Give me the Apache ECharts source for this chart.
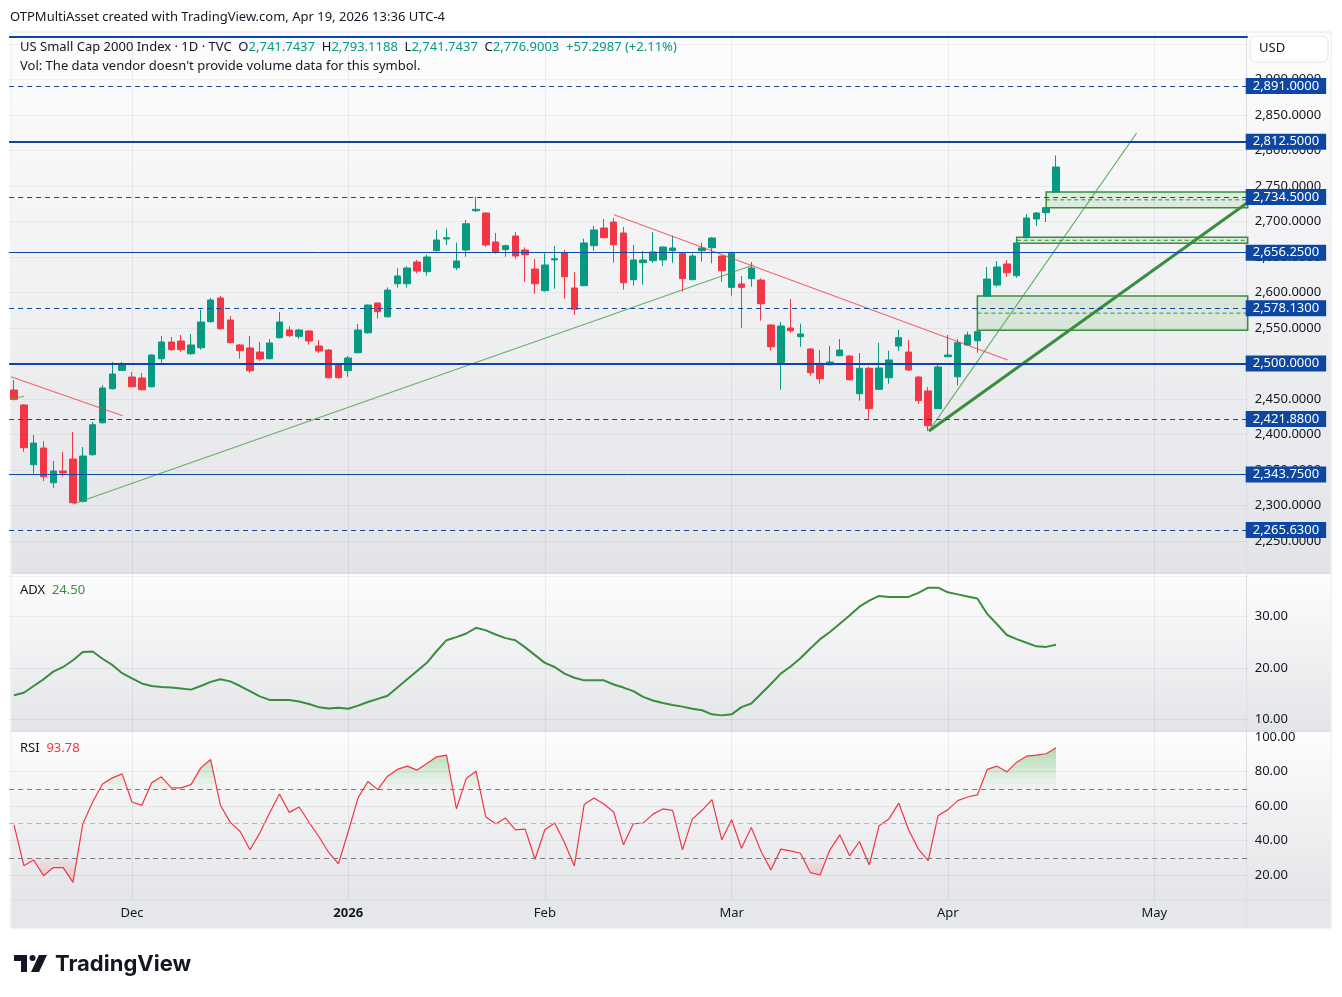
<!DOCTYPE html>
<html><head><meta charset="utf-8">
<script src="https://cdn.jsdelivr.net/npm/echarts@6/dist/echarts.min.js"></script>
<style>html,body{margin:0;padding:0;background:#fff;}#c{width:1342px;height:997px;}</style>
</head><body><div id="c"></div>
<script>
// ---------- DATA ----------
const dates = [
'2025-11-12','2025-11-13','2025-11-14','2025-11-17','2025-11-18','2025-11-19','2025-11-20','2025-11-21','2025-11-24','2025-11-25','2025-11-26','2025-11-28',
'2025-12-01','2025-12-02','2025-12-03','2025-12-04','2025-12-05','2025-12-08','2025-12-09','2025-12-10','2025-12-11','2025-12-12','2025-12-15','2025-12-16','2025-12-17','2025-12-18','2025-12-19','2025-12-22','2025-12-23','2025-12-24','2025-12-26','2025-12-29','2025-12-30','2025-12-31',
'2026-01-02','2026-01-05','2026-01-06','2026-01-07','2026-01-08','2026-01-09','2026-01-12','2026-01-13','2026-01-14','2026-01-15','2026-01-16','2026-01-20','2026-01-21','2026-01-22','2026-01-23','2026-01-26','2026-01-27','2026-01-28','2026-01-29','2026-01-30',
'2026-02-02','2026-02-03','2026-02-04','2026-02-05','2026-02-06','2026-02-09','2026-02-10','2026-02-11','2026-02-12','2026-02-13','2026-02-17','2026-02-18','2026-02-19','2026-02-20','2026-02-23','2026-02-24','2026-02-25','2026-02-26','2026-02-27',
'2026-03-02','2026-03-03','2026-03-04','2026-03-05','2026-03-06','2026-03-09','2026-03-10','2026-03-11','2026-03-12','2026-03-13','2026-03-16','2026-03-17','2026-03-18','2026-03-19','2026-03-20','2026-03-23','2026-03-24','2026-03-25','2026-03-26','2026-03-27','2026-03-30','2026-03-31',
'2026-04-01','2026-04-02','2026-04-06','2026-04-07','2026-04-08','2026-04-09','2026-04-10','2026-04-13','2026-04-14','2026-04-15','2026-04-16','2026-04-17'];
const futureDates = ['2026-04-20','2026-04-21','2026-04-22','2026-04-23','2026-04-24','2026-04-27','2026-04-28','2026-04-29','2026-04-30','2026-05-01','2026-05-04','2026-05-05','2026-05-06','2026-05-07','2026-05-08','2026-05-11','2026-05-12','2026-05-13','2026-05-14'];

const opens = [
2462.8,2441.7,2357.6,2381.1,2332.2,2348.7,2365.6,2306.0,2371.7,2416.7,
2464.6,2490.5,2481.1,2479.7,2467.4,2506.9,2530.4,2531.8,2513.9,2522.4,
2559.0,2592.4,2561.4,2526.2,2522.0,2516.3,2506.9,2536.5,2547.3,2538.4,
2545.9,2524.8,2519.1,2499.4,2490.0,2515.3,2543.5,2585.3,2566.0,2612.5,
2612.5,2643.1,2629.4,2659.0,2675.5,2635.0,2660.0,2715.3,2712.1,2671.3,
2660.6,2679.7,2660.0,2633.2,2602.7,2646.0,2655.8,2606.5,2609.7,2666.1,
2691.0,2699.4,2683.9,2618.2,2642.1,2644.9,2646.0,2659.0,2654.8,2618.2,
2659.0,2663.2,2651.5,2607.4,2612.1,2619.6,2617.7,2554.4,2501.3,2550.1,
2537.9,2520.6,2500.4,2498.4,2511.1,2510.7,2457.6,2493.4,2463.8,2480.1,
2524.8,2516.3,2481.1,2461.4,2436.5,2509.7,2481.5,2526.2,2532.2,2595.2,
2610.7,2640.3,2623.8,2677.4,2703.7,2712.6,2741.7437];
const highs = [
2476.9,2443.0,2399.4,2390.5,2362.8,2375.5,2403.6,2382.5,2417.7,2469.8,
2502.2,2502.2,2488.2,2486.8,2513.0,2538.9,2537.4,2540.3,2541.7,2575.9,
2592.4,2595.2,2567.0,2527.5,2538.9,2530.4,2534.6,2572.7,2552.9,2548.7,
2547.0,2533.2,2520.5,2500.5,2510.7,2555.8,2583.0,2586.0,2607.4,2634.2,
2637.0,2646.0,2653.4,2688.2,2690.6,2670.3,2702.2,2735.1,2713.0,2683.9,
2667.5,2685.4,2663.8,2647.3,2655.4,2665.6,2660.0,2629.0,2675.9,2693.8,
2703.7,2705.1,2692.4,2667.0,2658.6,2685.4,2665.0,2680.1,2656.0,2654.8,
2670.3,2678.3,2652.5,2657.6,2623.4,2643.1,2620.0,2555.0,2558.6,2591.0,
2556.2,2521.5,2519.1,2524.8,2534.6,2511.5,2514.9,2495.6,2529.4,2518.2,
2547.7,2533.2,2482.0,2467.0,2500.4,2540.3,2534.6,2544.9,2546.0,2636.0,
2644.5,2645.9,2672.0,2710.7,2713.5,2720.5,2793.1188];
const lows = [
2448.0,2375.9,2344.9,2334.6,2325.2,2340.7,2303.0,2304.5,2370.5,2415.5,
2463.5,2489.5,2466.5,2462.0,2466.5,2501.3,2518.2,2516.7,2512.5,2519.6,
2557.5,2547.5,2528.5,2506.9,2487.2,2503.7,2506.0,2535.5,2537.4,2535.0,
2526.6,2514.9,2479.0,2479.0,2481.5,2514.5,2542.1,2563.2,2565.0,2606.9,
2607.0,2627.2,2623.8,2658.0,2667.0,2631.8,2650.6,2713.5,2664.6,2654.8,
2650.6,2647.7,2615.3,2598.4,2601.5,2605.5,2591.4,2568.9,2609.0,2659.0,
2676.5,2642.1,2604.1,2609.7,2611.1,2642.1,2637.5,2642.1,2601.3,2617.5,
2643.5,2641.3,2615.3,2595.6,2550.5,2608.3,2560.4,2518.2,2463.2,2543.5,
2523.8,2482.9,2471.7,2497.5,2510.5,2476.0,2447.7,2422.4,2463.0,2471.7,
2517.7,2489.6,2443.1,2405.0,2435.8,2509.0,2468.9,2525.0,2515.3,2594.0,
2608.3,2622.4,2620.9,2676.0,2693.8,2699.4,2741.7437];
const closes = [
2449.7,2381.5,2388.1,2340.7,2348.7,2346.0,2304.1,2369.8,2413.9,2465.6,
2485.3,2499.4,2467.4,2463.2,2512.1,2530.4,2519.6,2519.6,2526.2,2558.6,
2589.6,2549.1,2529.4,2518.2,2490.0,2506.5,2529.0,2558.6,2539.3,2547.3,
2531.8,2517.7,2480.1,2480.1,2507.9,2547.3,2582.5,2573.1,2603.6,2623.4,
2634.6,2630.4,2650.1,2674.1,2677.3,2644.5,2697.0,2717.3,2667.0,2657.2,
2666.1,2651.5,2653.4,2612.5,2638.9,2647.7,2622.4,2576.5,2669.9,2688.2,
2677.3,2667.5,2613.9,2646.0,2646.0,2657.2,2664.2,2662.8,2619.6,2651.5,
2662.8,2676.9,2630.8,2655.3,2607.4,2634.6,2584.3,2523.8,2552.9,2546.3,
2541.7,2487.2,2478.7,2502.2,2519.1,2477.3,2493.4,2436.5,2493.8,2505.1,
2536.5,2491.0,2447.7,2412.5,2495.2,2512.1,2529.4,2540.3,2544.9,2619.1,
2636.0,2628.0,2669.9,2705.1,2712.1,2719.6016,2776.9003];

const adx = [
14.7,15.2,16.5,17.8,19.3,20.2,21.5,23.1,23.2,21.8,
20.6,19.0,18.0,17.0,16.5,16.3,16.2,16.0,15.8,16.5,
17.3,17.8,17.4,16.5,15.5,14.5,13.8,13.8,13.8,13.5,
13.0,12.4,12.15,12.3,12.1,12.7,13.4,14.0,14.6,16.2,
17.8,19.4,21.0,23.3,25.4,26.0,26.7,27.8,27.3,26.5,
25.8,25.4,24.0,22.5,21.0,20.2,18.9,18.1,17.6,17.6,
17.6,16.8,16.2,15.5,14.4,13.7,13.2,12.8,12.5,12.1,
11.8,11.0,10.8,11.0,12.4,13.1,15.0,16.9,18.9,20.3,
21.9,23.8,25.6,27.0,28.6,30.2,31.9,33.1,34.0,33.8,
33.8,33.8,34.6,35.6,35.6,34.7,34.3,33.9,33.5,30.5,
28.5,26.4,25.6,24.9,24.2,24.1,24.50];
const rsi = [
49.0,25.4,28.7,19.6,24.3,24.3,15.7,49.7,62.3,72.8,
76.3,78.6,62.3,60.4,73.4,76.9,70.5,70.5,72.4,82.1,
87.0,60.4,50.5,45.2,34.6,44.3,55.9,67.0,56.3,59.4,
50.7,42.3,33.2,26.4,45.2,64.7,74.2,69.5,77.3,81.2,
83.1,80.8,84.7,88.5,89.5,58.4,75.9,80.2,53.6,49.7,
53.0,46.2,46.6,29.1,46.2,50.1,38.8,25.2,60.8,64.7,
61.2,56.5,37.5,49.7,50.1,55.3,58.3,57.5,34.6,52.4,
57.5,63.7,40.4,52.0,35.5,47.6,33.6,22.9,35.0,34.0,
32.6,21.4,20.0,34.6,43.3,31.1,39.4,25.8,48.5,52.4,
61.7,46.2,35.0,28.3,54.4,57.9,63.1,65.2,66.4,81.2,
83.1,79.8,85.4,88.9,89.5,90.3,93.78];

const monthLabels = {'2025-12-01':'Dec','2026-01-02':'2026','2026-02-02':'Feb','2026-03-02':'Mar','2026-04-01':'Apr','2026-05-01':'May'};
const priceTicks = {min:2200, max:2960, step:50};
const adxTicks = [10,20,30];
const rsiGridTicks = [20,40,60,80];
const rsiBands = [70,50,30];

const dashedLevels = [2891, 2734.5, 2578.13, 2421.88, 2265.63];
const thickLevels = [2812.5, 2500];
const thinLevels = [2656.25, 2343.75];
const topLevel = [2960];

// trend lines: [bar index, price]
const redTrend1 = [[-0.31, 2481.5],[11.06, 2426.6]];
const redTrend2 = [[61.03, 2709.7],[101.08, 2505.1]];
const greenShort = [[-0.27, 2450.5],[1.03, 2454.0]];
const greenLong = [[6.03, 2302.3],[75.2, 2638.9]];
const greenSteep = [[93.07, 2405.1],[114.2, 2824.8]];
const greenMain = [[93.07, 2405.1],[125.5, 2726.8]];

// gap zones
const zoneStart = [98, 102, 105];
const zoneLow = [2546.9, 2669.4, 2719.6];
const zoneHigh = [2595.2, 2677.9, 2741.74];

// ---------- CHART ----------
const cats = dates.concat(futureDates);
const NB = cats.length;
const XMAX = NB - 0.5;
const FONT = '"Noto Sans", "DejaVu Sans", sans-serif';
const TXT = '#131722';
const UP = '#089981', DOWN = '#f23645';
const LVL = '#0d47a1';
const GL = '#388e3c';
const L = 9.1, RGT = 94.3;

const fmt4 = v => v.toLocaleString('en-US',{minimumFractionDigits:4, maximumFractionDigits:4});
const fmt2 = v => v.toFixed(2);
const grad = (a,b) => new echarts.graphic.LinearGradient(0,0,0,1,[{offset:0,color:a},{offset:1,color:b}]);

const levelItem = (v, width, type, showLabel) => ({
  yAxis: v,
  lineStyle: {color: LVL, width: width, type: type},
  label: showLabel ? {show:true, position:'end', distance:-2, formatter: fmt4(v), backgroundColor: LVL, color:'#fff',
                      fontSize:13, fontFamily: FONT, padding:[2,7,1,7]} : {show:false}
});
const levelData = []
  .concat(dashedLevels.map(v => levelItem(v, 1, [5,4], true)))
  .concat(thickLevels.map(v => levelItem(v, 2, 'solid', true)))
  .concat(thinLevels.map(v => levelItem(v, 1, 'solid', true)))
  .concat(topLevel.map(v => levelItem(v, 2, 'solid', false)));

const candleData = dates.map((d,i) => [opens[i], closes[i], lows[i], highs[i]]);

const series = [];
series.push({
  type:'candlestick', xAxisIndex:0, yAxisIndex:0, data: candleData, barWidth:7,
  itemStyle:{color:UP, color0:DOWN, borderColor:UP, borderColor0:DOWN, borderWidth:1},
  markLine:{symbol:['none','none'], silent:true, animation:false, z:5, data: levelData}
});
const trend = (data, color, width, opacity) => ({
  type:'line', xAxisIndex:1, yAxisIndex:0, data: data, symbol:'none', silent:true, z:4,
  lineStyle:{color: color, width: width, opacity: opacity}
});
series.push(trend(redTrend1, '#f23645', 1.2, 0.75));
series.push(trend(redTrend2, '#f23645', 1.2, 0.75));
series.push(trend(greenShort, '#43a047', 1.2, 0.8));
series.push(trend(greenLong, '#43a047', 1.2, 0.8));
series.push(trend(greenSteep, '#43a047', 1.2, 0.85));
series.push(trend(greenMain, GL, 3, 1));
zoneStart.forEach((s,k) => {
  const mid = (zoneLow[k] + zoneHigh[k]) / 2;
  series.push({
    type:'line', xAxisIndex:1, yAxisIndex:0, data:[[s, mid],[XMAX, mid]], symbol:'none', silent:true, z:3,
    lineStyle:{color:GL, width:1, type:[4,3]},
    markArea:{silent:true, itemStyle:{color:'rgba(76,175,80,0.14)', borderColor:GL, borderWidth:1.5},
      data:[[{coord:[s, zoneLow[k]]},{coord:[XMAX, zoneHigh[k]]}]]}
  });
});
// ADX
series.push({
  type:'line', xAxisIndex:2, yAxisIndex:1, data: adx, symbol:'none', silent:true, z:3,
  lineStyle:{color:GL, width:2},
  markLine:{symbol:['none','none'], silent:true, animation:false,
    data: adxTicks.map(v => ({yAxis:v, lineStyle:{color:'rgba(42,46,57,0.07)', width:1, type:'solid'}, label:{show:false}}))
      .concat([{yAxis: adx[adx.length-1], lineStyle:{opacity:0}, label:{show:true, position:'end', distance:-2,
        formatter: fmt2(adx[adx.length-1]), backgroundColor:GL, color:'#fff', fontSize:13, fontFamily:FONT, padding:[2,6,1,6]}}])}
});
// RSI fills
const obIdx = series.length;
series.push({type:'line', xAxisIndex:3, yAxisIndex:2, data: rsi, symbol:'none', silent:true, z:1,
  lineStyle:{width:0, opacity:0}, areaStyle:{origin:'start', opacity:1}});
const osIdx = series.length;
series.push({type:'line', xAxisIndex:3, yAxisIndex:2, data: rsi, symbol:'none', silent:true, z:1,
  lineStyle:{width:0, opacity:0}, areaStyle:{origin:'end', opacity:1}});
series.push({
  type:'line', xAxisIndex:3, yAxisIndex:2, data: rsi, symbol:'none', silent:true, z:3,
  lineStyle:{color:'#f23645', width:1.2},
  markLine:{symbol:['none','none'], silent:true, animation:false,
    data: rsiGridTicks.map(v => ({yAxis:v, lineStyle:{color:'rgba(42,46,57,0.07)', width:1, type:'solid'}, label:{show:false}}))
      .concat(rsiBands.map(v => ({yAxis:v, lineStyle:{color: v===50 ? '#b2b5be' : '#787b86', width:1, type:[5,4]}, label:{show:false}})))
      .concat([{yAxis: rsi[rsi.length-1], lineStyle:{opacity:0}, label:{show:true, position:'end', distance:-2,
        formatter: fmt2(rsi[rsi.length-1]), backgroundColor:'#f23645', color:'#fff', fontSize:13, fontFamily:FONT, padding:[2,6,1,6]}}])}
});

const obPieces = [{lt:70, color:'rgba(76,175,80,0)'}];
for (let k=0;k<10;k++) obPieces.push({gte:70+3*k, lt:70+3*(k+1), color:'rgba(76,175,80,'+(0.05+0.05*k).toFixed(2)+')'});
obPieces.push({gte:100, color:'rgba(76,175,80,0.55)'});
const osPieces = [{gte:30, color:'rgba(242,54,69,0)'}];
for (let k=0;k<10;k++) osPieces.push({gte:30-3*(k+1), lt:30-3*k, color:'rgba(242,54,69,'+(0.05+0.04*k).toFixed(2)+')'});
osPieces.push({lt:0, color:'rgba(242,54,69,0.45)'});

const catAxisHidden = (gi) => ({type:'category', gridIndex:gi, data:cats, boundaryGap:true,
  axisLine:{show:false}, axisTick:{show:false}, axisLabel:{show:false}, splitLine:{show:false}});

const option = {
  animation:false,
  backgroundColor:'#ffffff',
  textStyle:{fontFamily:FONT},
  grid:[
    {left:L, right:RGT, top:37, height:539.6},
    {left:L, right:RGT, top:565, height:206},
    {left:L, right:RGT, top:737, height:172.5},
    {left:L, right:RGT, top:33, height:867}
  ],
  xAxis:[
    catAxisHidden(0),
    {type:'value', gridIndex:0, min:-0.5, max:XMAX, show:false},
    catAxisHidden(1),
    {type:'category', gridIndex:2, data:cats, boundaryGap:true, axisLine:{show:false}, axisTick:{show:false}, splitLine:{show:false},
      axisLabel:{show:true, interval:(i,v)=>!!monthLabels[v], margin:3.5, verticalAlign:'middle',
        formatter:(v)=> monthLabels[v]==='2026' ? '{b|2026}' : (monthLabels[v]||''),
        color:TXT, fontSize:13, fontFamily:FONT,
        rich:{b:{fontWeight:'bold', color:TXT, fontSize:13, fontFamily:FONT}}}},
    {type:'category', gridIndex:3, data:cats, boundaryGap:true, axisLine:{show:false}, axisTick:{show:false}, axisLabel:{show:false},
      splitLine:{show:true, alignWithLabel:true, interval:(i,v)=>!!monthLabels[v], lineStyle:{color:'rgba(42,46,57,0.07)', width:1}}}
  ],
  yAxis:[
    {type:'value', gridIndex:0, position:'right', min:priceTicks.min, max:priceTicks.max, interval:priceTicks.step,
      axisLine:{show:false}, axisTick:{show:false},
      splitLine:{show:true, lineStyle:{color:'rgba(42,46,57,0.06)', width:1}},
      axisLabel:{margin:7, color:TXT, fontSize:13, fontFamily:FONT,
        formatter:(v)=> (v>=2250 && v<=2900 && v%50===0) ? fmt4(v) : ''}},
    {type:'value', gridIndex:1, position:'right', min:0, max:40, interval:10,
      axisLine:{show:false}, axisTick:{show:false}, splitLine:{show:false},
      axisLabel:{margin:7, color:TXT, fontSize:13, fontFamily:FONT, formatter:(v)=> (v>=10 && v<=30) ? fmt2(v) : ''}},
    {type:'value', gridIndex:2, position:'right', min:0, max:100, interval:20,
      axisLine:{show:false}, axisTick:{show:false}, splitLine:{show:false},
      axisLabel:{margin:7, color:TXT, fontSize:13, fontFamily:FONT, formatter:(v)=> (v>=20) ? fmt2(v) : ''}},
    {type:'value', gridIndex:3, min:0, max:1, show:false}
  ],
  visualMap:[
    {type:'piecewise', show:false, seriesIndex:obIdx, dimension:1, pieces:obPieces},
    {type:'piecewise', show:false, seriesIndex:osIdx, dimension:1, pieces:osPieces}
  ],
  series: series,
  graphic:[
    {type:'rect', silent:true, z:-30, shape:{x:11,y:32,width:1320,height:896}, style:{fill:'#ffffff', stroke:'#e0e3eb', lineWidth:1}},
    {type:'rect', silent:true, z:-20, shape:{x:11.5,y:33,width:1319,height:539}, style:{fill:grad('#fdfdfd','#e3e4e8')}},
    {type:'rect', silent:true, z:-20, shape:{x:11.5,y:574,width:1319,height:156}, style:{fill:grad('#fdfdfd','#e4e5e8')}},
    {type:'rect', silent:true, z:-20, shape:{x:11.5,y:732,width:1319,height:168}, style:{fill:grad('#fdfdfd','#e4e5e8')}},
    {type:'rect', silent:true, z:-19, shape:{x:11.5,y:572,width:1319,height:2}, style:{fill:'#dcdee3'}},
    {type:'rect', silent:true, z:-19, shape:{x:11.5,y:730,width:1319,height:2}, style:{fill:'#dcdee3'}},
    {type:'rect', silent:true, z:-19, shape:{x:11.5,y:900,width:1319,height:28}, style:{fill:'#e6e7ea'}},
    {type:'line', silent:true, z:-18, shape:{x1:1246.5,y1:33,x2:1246.5,y2:928}, style:{stroke:'#dcdee3', lineWidth:1}},
    {type:'line', silent:true, z:-18, shape:{x1:11.5,y1:900.5,x2:1331,y2:900.5}, style:{stroke:'#dcdee3', lineWidth:1}},
    {type:'text', silent:true, z:50, left:10, top:11, style:{text:'OTPMultiAsset created with TradingView.com, Apr 19, 2026 13:36 UTC-4', fill:TXT, fontSize:13, fontFamily:FONT}},
    {type:'text', silent:true, z:50, left:20, top:41, style:{
      text:'{n|US Small Cap 2000 Index · 1D · TVC}  {n|O}{g|'+fmt4(opens[opens.length-1])+'}  {n|H}{g|'+fmt4(highs[highs.length-1])+'}  {n|L}{g|'+fmt4(lows[lows.length-1])+'}  {n|C}{g|'+fmt4(closes[closes.length-1])+'}  {g|+'+(closes[closes.length-1]-closes[closes.length-2]).toFixed(4)+' (+'+((closes[closes.length-1]/closes[closes.length-2]-1)*100).toFixed(2)+'%)}',
      fontSize:13, fontFamily:FONT,
      rich:{n:{fill:TXT, fontSize:13, fontFamily:FONT}, g:{fill:UP, fontSize:13, fontFamily:FONT}}}},
    {type:'text', silent:true, z:50, left:20, top:60, style:{text:"Vol: The data vendor doesn't provide volume data for this symbol.", fill:TXT, fontSize:13, fontFamily:FONT}},
    {type:'text', silent:true, z:50, left:20, top:584, style:{text:'{n|ADX}  {g|'+fmt2(adx[adx.length-1])+'}', fontSize:13, fontFamily:FONT,
      rich:{n:{fill:TXT, fontSize:13, fontFamily:FONT}, g:{fill:GL, fontSize:13, fontFamily:FONT}}}},
    {type:'text', silent:true, z:50, left:20, top:742, style:{text:'{n|RSI}  {g|'+fmt2(rsi[rsi.length-1])+'}', fontSize:13, fontFamily:FONT,
      rich:{n:{fill:TXT, fontSize:13, fontFamily:FONT}, g:{fill:'#f23645', fontSize:13, fontFamily:FONT}}}},
    {type:'rect', silent:true, z:50, shape:{x:1250,y:36,width:78,height:26,r:6}, style:{fill:'#ffffff', stroke:'#e0e3eb', lineWidth:1}},
    {type:'text', silent:true, z:51, left:1259, top:42, style:{text:'USD', fill:TXT, fontSize:13, fontFamily:FONT}},
    // TradingView logo
    {type:'polygon', silent:true, z:50, shape:{points:[[14,955],[27,955],[27,972],[21,972],[21,961],[14,961]]}, style:{fill:TXT}},
    {type:'circle', silent:true, z:50, shape:{cx:32.5,cy:958,r:3}, style:{fill:TXT}},
    {type:'polygon', silent:true, z:50, shape:{points:[[39,955],[47,955],[39,972],[31,972]]}, style:{fill:TXT}},
    {type:'text', silent:true, z:50, left:55, top:953, style:{text:'TradingView', fill:TXT, fontSize:22, fontWeight:'bold', fontFamily:'Inter, "Noto Sans", sans-serif'}}
  ]
};
const chart = echarts.init(document.getElementById('c'), null, {renderer:'canvas', width:1342, height:997});
chart.setOption(option);
</script>
</body></html>
